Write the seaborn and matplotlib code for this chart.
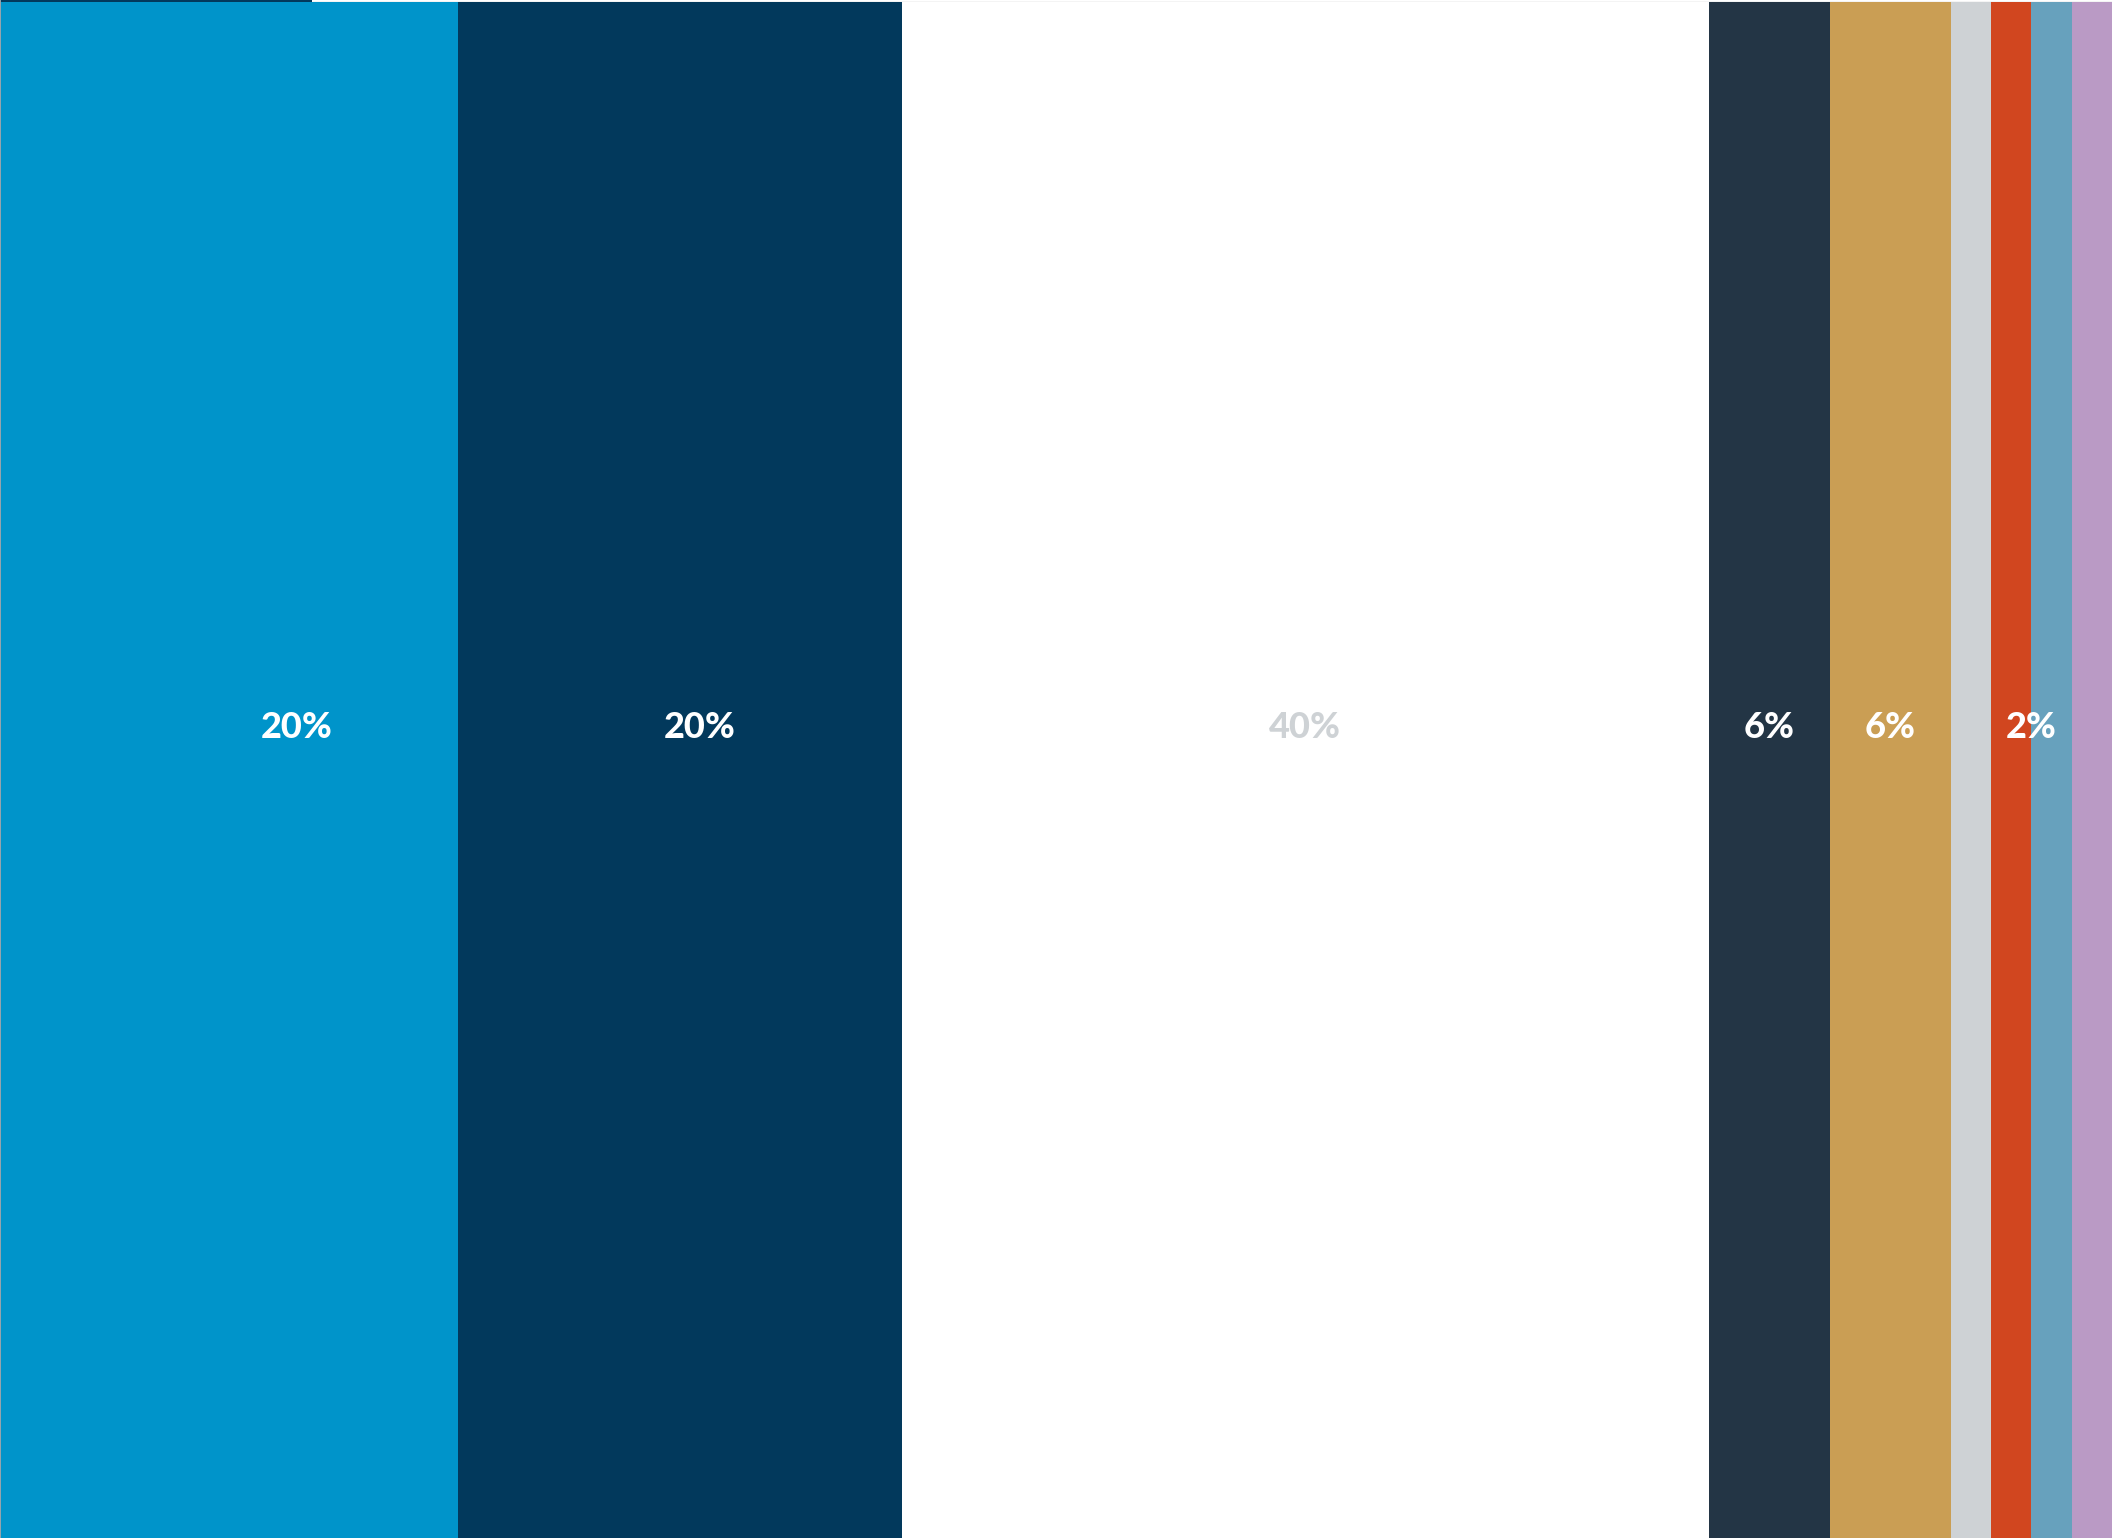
import matplotlib
matplotlib.use("Agg")
import matplotlib.pyplot as plt
import matplotlib.transforms as mtransforms
import seaborn as sns
import numpy as np
import pandas as pd

# ---- data ----
segment_names = ["A", "B", "C", "D", "E", "F", "G", "H", "I"]
segment_values = [22.7, 22.0, 40.0, 6.0, 6.0, 2.0, 2.0, 2.0, 2.0]
segment_colors = ["#0094CA", "#02395C", "#FFFFFF", "#233545", "#CA9E54",
                  "#CED2D5", "#D1461F", "#67A1BD", "#BA9AC5"]
label_texts = ["20%", "20%", "40%", "6%", "6%", "2%"]
label_spans = [20, 20, 40, 6, 6, 8]
label_colors = ["#FFFFFF", "#FFFFFF", "#CED2D5", "#FFFFFF", "#FFFFFF", "#FFFFFF"]

sns.set_theme(style="white")
plt.rcParams["font.family"] = ["Lato", "DejaVu Sans"]

W, H, DPI = 2112, 1538, 100
fig = plt.figure(figsize=(W / DPI, H / DPI), dpi=DPI, facecolor="white")
ax = fig.add_axes([0, 0, 1, 1])

df = pd.DataFrame({"name": segment_names, "value": segment_values, "color": segment_colors})
df["cum"] = df["value"].cumsum()
total = df["value"].sum()

# stacked bar via layered cumulative bars (largest first)
for _, row in df.iloc[::-1].iterrows():
    sns.barplot(x=[row["cum"]], y=["all"], orient="h", color=row["color"],
                saturation=1, width=1.0, ax=ax, linewidth=0)

ax.set_xlim(0, total)
eps = 2 / (H - 2)
ax.set_ylim(0.5, -0.5 - eps)

# labels, laid out right-aligned on the percentage spans
start = total - sum(label_spans)
trans = mtransforms.blended_transform_factory(ax.transData, ax.transAxes)
pos = start
for txt, span, col in zip(label_texts, label_spans, label_colors):
    ax.text(pos + span / 2, 1 - 727 / H, txt, transform=trans, ha="center", va="center",
            fontsize=26, fontweight="black", color=col)
    pos += span

# top indicator line
ax.plot([0, 312 / W], [1 - 1 / H, 1 - 1 / H], transform=ax.transAxes, color="#02395C",
        linewidth=2 * 72 / DPI, solid_capstyle="butt", clip_on=False)
ax.plot([312 / W, 1], [1 - 0.5 / H, 1 - 0.5 / H], transform=ax.transAxes, color="#F4F4F4",
        linewidth=1 * 72 / DPI, solid_capstyle="butt", clip_on=False)

ax.set_xlabel("")
ax.set_ylabel("")
ax.set_xticks([])
ax.set_yticks([])
for s in ["top", "right", "bottom"]:
    ax.spines[s].set_visible(False)
ax.spines["left"].set_color("#9aa5ad")
ax.spines["left"].set_linewidth(0.7)

fig.savefig("out.png", dpi=DPI, facecolor="white")
